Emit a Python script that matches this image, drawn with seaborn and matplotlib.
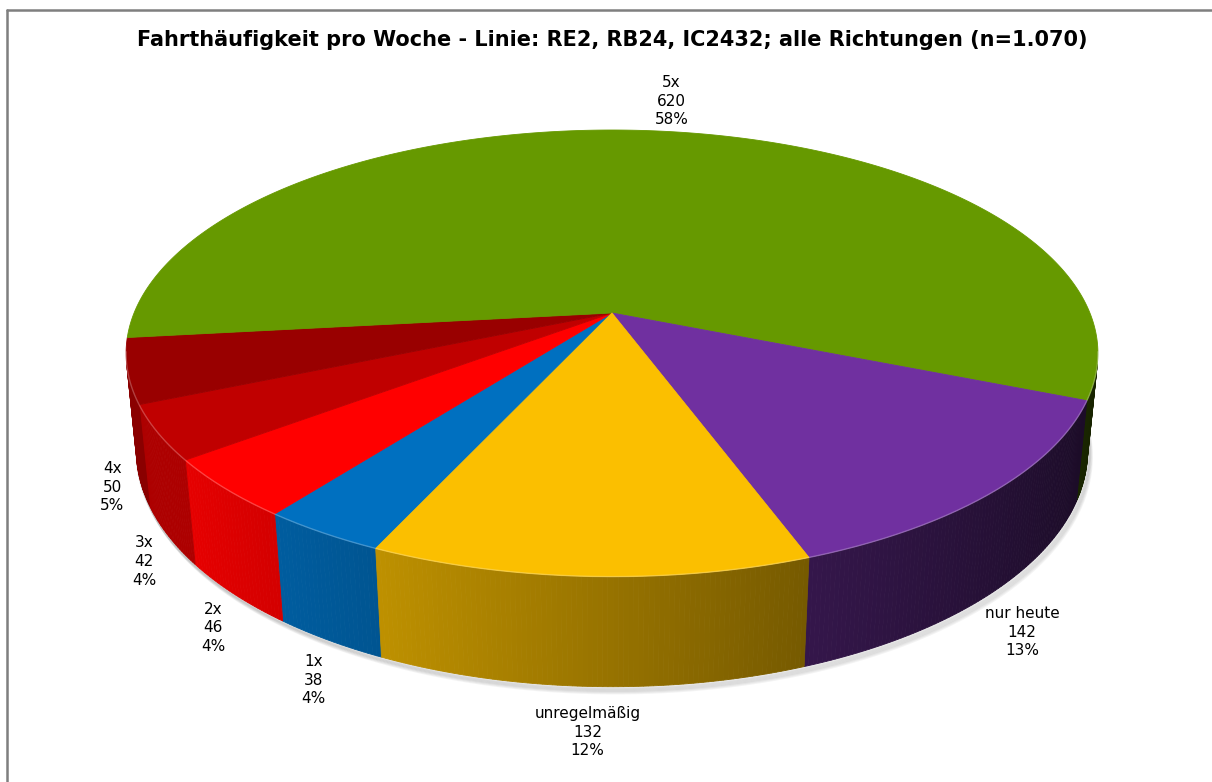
import numpy as np
import matplotlib
matplotlib.use("Agg")
import matplotlib.pyplot as plt
from matplotlib.colors import to_rgb
from matplotlib.patches import Polygon
import seaborn as sns

# data
LABELS = ['1x', '2x', '3x', '4x', '5x', 'nur heute', 'unregelmäßig']
COUNTS = [38, 46, 42, 50, 620, 142, 132]
COLORS = ['#0070C0', '#FF0000', '#C00000', '#990000', '#669900', '#7030A0', '#FBBF00']
TITLE = 'Fahrthäufigkeit pro Woche - Linie: RE2, RB24, IC2432; alle Richtungen (n=1.070)'

# view settings for the fake 3d pie
SIN_ELEV = 0.452
DIST = 4.94
FOCAL = 2361
THICK = 0.23
CX, CY = 612, 313
START = -114.4  # first slice starts here, slices run clockwise

sns.set_theme(style="white")
plt.rcParams['font.family'] = ['DejaVu Sans']

COS_ELEV = np.sqrt(1 - SIN_ELEV ** 2)


def project(x, y, z):
    # simple perspective camera looking down on the pie
    depth = DIST + y * COS_ELEV - z * SIN_ELEV
    return CX + FOCAL * x / depth, CY - FOCAL * (y * SIN_ELEV + z * COS_ELEV) / depth


def shade(t):
    # light from the left, walls get darker towards the right
    return np.clip(0.6 - 0.38 * np.cos(t), 0.22, 0.9)


counts = np.array(COUNTS, dtype=float)
total = counts.sum()
edges = START - np.concatenate([[0], np.cumsum(counts / total * 360)])

fig = plt.figure(figsize=(12.12, 7.82), dpi=100)
ax = fig.add_axes([0, 0, 1, 1])
ax.set_xlim(0, 1212)
ax.set_ylim(782, 0)
ax.axis('off')

# soft shadow under the front edge
tt = np.radians(np.linspace(-185, 5, 400))
bx, by = project(np.cos(tt), np.sin(tt), -THICK)
for k in range(1, 7):
    ax.plot(bx + k * 0.6, by + k, color='grey', alpha=0.09, lw=2.5, zorder=0,
            solid_capstyle='round')

label_texts = []
for i, lab in enumerate(LABELS):
    a0, a1 = np.radians(edges[i]), np.radians(edges[i + 1])
    n = max(int(abs(edges[i] - edges[i + 1]) * 2), 4)
    t = np.linspace(a0, a1, n)
    base = np.array(to_rgb(COLORS[i]))

    # side wall, split into thin strips for the gradient
    for k in range(n - 1):
        tm = 0.5 * (t[k] + t[k + 1])
        if -1 - DIST * COS_ELEV * np.sin(tm) <= 0:
            continue
        seg = t[k:k + 2]
        xt, yt = project(np.cos(seg), np.sin(seg), 0)
        xb, yb = project(np.cos(seg), np.sin(seg), -THICK)
        pts = np.column_stack([np.r_[xt, xb[::-1]], np.r_[yt, yb[::-1]]])
        col = base * shade(tm)
        ax.add_patch(Polygon(pts, closed=True, facecolor=col, edgecolor=col,
                             lw=0.6, zorder=1))

    # top face
    xt, yt = project(np.cos(t), np.sin(t), 0)
    pts = np.column_stack([np.r_[CX, xt], np.r_[CY, yt]])
    ax.add_patch(Polygon(pts, closed=True, facecolor=base, edgecolor=base,
                         lw=0.6, zorder=2))

    # label anchor just outside the rim (below the wall for front slices)
    mid = 0.5 * (a0 + a1)
    pct = round(COUNTS[i] / total * 100)
    z = -THICK - 0.02 if np.sin(mid) < 0 else 0
    lx, ly = project(1.03 * np.cos(mid), 1.03 * np.sin(mid), z)
    txt = ax.text(lx, ly, f'{lab}\n{COUNTS[i]}\n{pct}%', ha='center', va='center',
                  fontsize=11, linespacing=1.3, color='black', zorder=5)
    label_texts.append((txt, mid, lx, ly))

# push each label box outwards so its edge sits at the anchor
renderer = fig.canvas.get_renderer()
for txt, mid, lx, ly in label_texts:
    bb = txt.get_window_extent(renderer)
    txt.set_position((lx + 0.5 * bb.width * np.cos(mid),
                      ly - 0.5 * bb.height * np.sin(mid)))

# thin highlight along the front rim
tt = np.radians(np.linspace(-170, -10, 300))
hx, hy = project(np.cos(tt), np.sin(tt), 0)
ax.plot(hx, hy, color='white', alpha=0.25, lw=1, zorder=3)

ax.text(612, 40, TITLE, ha='center', va='center', fontsize=15,
        fontweight='bold', color='black')

# chart frame (top and left edge visible)
ax.plot([7, 1212], [10, 10], color='#7f7f7f', lw=1.8, zorder=6, clip_on=False)
ax.plot([7, 7], [10, 782], color='#7f7f7f', lw=1.8, zorder=6, clip_on=False)

fig.savefig('out.png', dpi=100)
